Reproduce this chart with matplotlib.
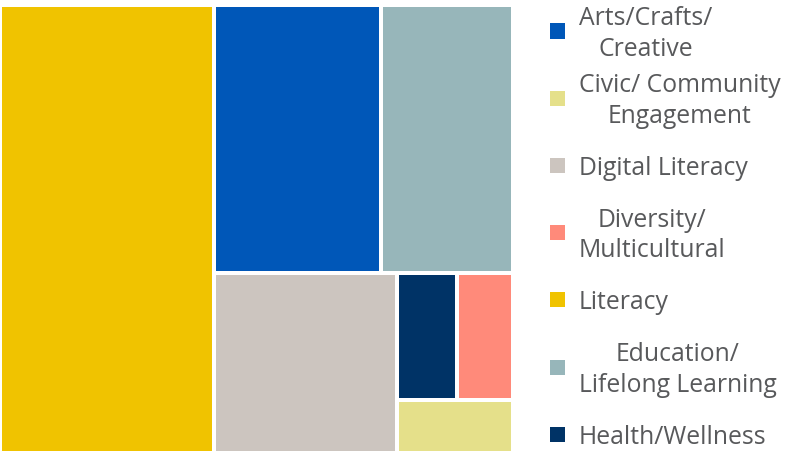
import matplotlib.pyplot as plt
from matplotlib.patches import Rectangle

categorias = ['Literacy', 'Arts/Crafts/\nCreative', 'Education/\nLifelong Learning', 'Digital Literacy',
              'Health/Wellness', 'Diversity/\nMulticultural', 'Civic/ Community\nEngagement']
valores = [41.8, 19.4, 15.4, 14.3, 3.3, 3.1, 2.7]
cores = ['#F0C300', '#0057B8', '#97B6BA', '#CCC5BF', '#003366', '#FF8A7A', '#E5E08A']

# legend order as in the original
ordem_legenda = ['Arts/Crafts/\nCreative', 'Civic/ Community\nEngagement', 'Digital Literacy',
                 'Diversity/\nMulticultural', 'Literacy', 'Education/\nLifelong Learning', 'Health/Wellness']

# how the tiles are grouped: 'h' splits left->right, 'v' splits top->bottom
arvore = ('h', [0, ('v', [('h', [1, 2]),
                          ('h', [3, ('v', [('h', [4, 5]), 6])])])])


def tamanho(no):
    if isinstance(no, int):
        return valores[no]
    return sum(tamanho(k) for k in no[1])


def distribuir(no, x, y, w, h, saida):
    if isinstance(no, int):
        saida[no] = (x, y, w, h)
        return
    direcao, filhos = no
    total = tamanho(no)
    for k in filhos:
        f = tamanho(k) / total
        if direcao == 'h':
            distribuir(k, x, y, w * f, h, saida)
            x += w * f
        else:
            distribuir(k, x, y, w, h * f, saida)
            y += h * f


W, H = 787, 453
fig = plt.figure(figsize=(W / 100, H / 100), dpi=100)

larg, alt = 513, 448
ax = fig.add_axes([0, 0, larg / W, alt / H])
ax.set_xlim(0, larg)
ax.set_ylim(alt, 0)
ax.axis('off')

rects = {}
distribuir(arvore, 0, 0, larg, alt, rects)
pad = 2
for i, (x, y, w, h) in rects.items():
    ax.add_patch(Rectangle((x + pad, y + pad), w - 2 * pad, h - 2 * pad,
                           facecolor=cores[i], edgecolor='none'))

# legend
cor_de = dict(zip(categorias, cores))
for j, nome in enumerate(ordem_legenda):
    yc = 31 + j * 67.2
    fig.patches.append(Rectangle((550 / W, 1 - (yc + 7.5) / H), 15 / W, 15 / H,
                                 transform=fig.transFigure, facecolor=cor_de[nome],
                                 edgecolor='none'))
    fig.text(579 / W, 1 - (yc + 3) / H, nome, ha='left', va='center', multialignment='center',
             fontsize=17.8, color='#58595B', family='Open Sans', linespacing=1.3)

fig.savefig('out.png', dpi=100)
